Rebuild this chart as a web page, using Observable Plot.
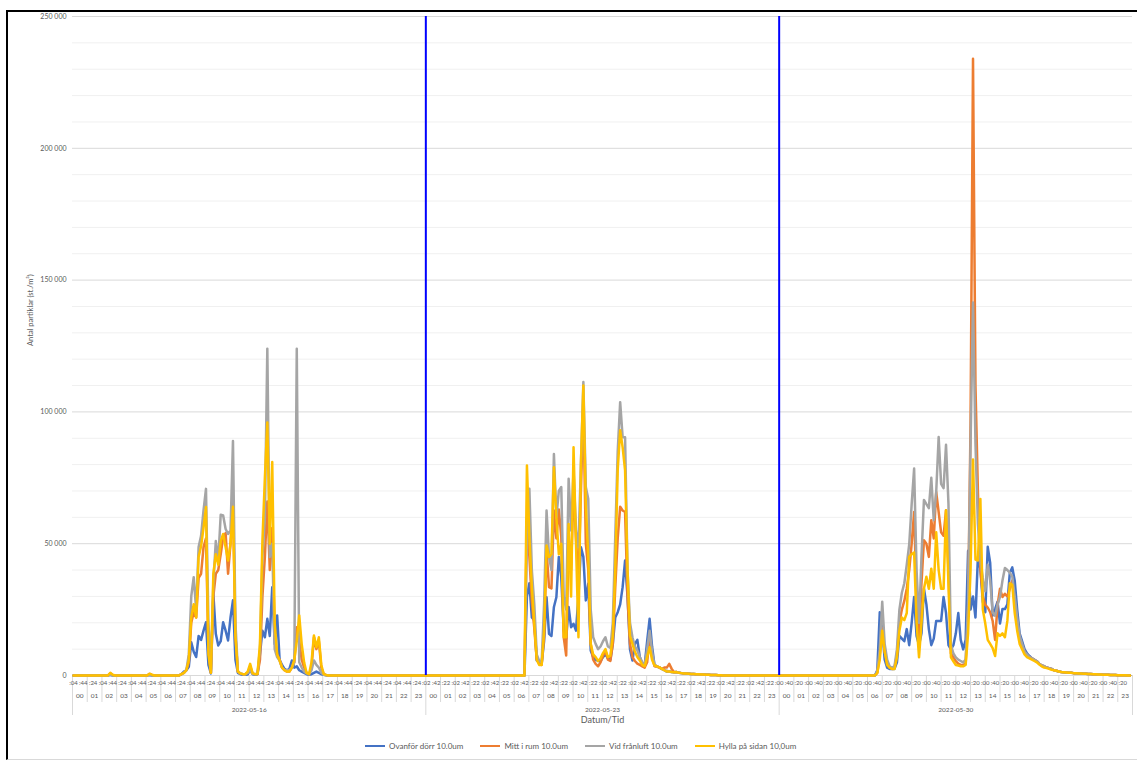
<!DOCTYPE html>
<html>
<head>
<meta charset="utf-8">
<script src="https://cdn.jsdelivr.net/npm/d3@7"></script>
<script src="https://cdn.jsdelivr.net/npm/@observablehq/plot@0.6"></script>
<style>
  body { margin: 0; background: #fff; font-family: Lato, "Open Sans", sans-serif; }
  #wrap { position: relative; width: 1137px; height: 762px; overflow: hidden; }
  #frame { position: absolute; left: 6px; top: 10px; right: -4px; bottom: 2px;
           border-top: 2.5px solid #000; border-left: 2.5px solid #000; border-bottom: 1px solid #d9d9d9; }
  #chart { position: absolute; left: 0; top: 0; }
  #chart svg { overflow: visible; }
  #legend { position: absolute; left: 365px; top: 741px; display: flex; align-items: center;
            font-size: 8px; color: #595959; white-space: nowrap; }
  #legend .item { display: flex; align-items: center; margin-right: 17px; }
  #legend .sw { width: 20px; height: 2.5px; margin-right: 4px; }
</style>
</head>
<body>
<div id="wrap">
  <div id="frame"></div>
  <div id="chart"></div>
  <div id="legend"></div>
</div>
<script>
// Series names and colours
const series = ["Ovanför dörr 10.0um", "Mitt i rum 10.0um", "Vid frånluft 10.0um", "Hylla på sidan 10,0um"];
const colors = ["#4472c4", "#ed7d31", "#a5a5a5", "#ffc000"];

// Measurement days; first reading of each day at hh:MM, then every 10 minutes (144 per day)
const dates = ["2022-05-16", "2022-05-23", "2022-05-30"];
const startMinute = [4, 2, 0];
const stepMinutes = 10;
const hourNames = ["00","01","02","03","04","05","06","07","08","09","10","11",
                   "12","13","14","15","16","17","18","19","20","21","22","23"];

// Axis values
const yTicks = [0, 50000, 100000, 150000, 200000, 250000];
const yMinor = [10000, 20000, 30000, 40000, 60000, 70000, 80000, 90000, 110000, 120000, 130000, 140000,
                160000, 170000, 180000, 190000, 210000, 220000, 230000, 240000];
const dayDividers = [24, 48];

// Ovanför dörr 10.0um (st./m³), one row = two hours
const ovanfor_16 = [
  0,0,0,0,0,0,0,0,0,0,0,0,
  0,0,0,300,0,0,0,0,0,0,0,0,
  0,0,0,0,0,0,0,200,0,0,0,0,
  0,0,0,0,0,0,0,0,500,1500,2000,3300,
  12600,9000,7000,15000,13500,17000,20200,4000,800,31000,15800,11400,
  13000,20200,17000,13300,22000,28500,6000,1000,500,300,300,400,
  2000,500,300,500,8000,17000,14500,21500,15000,33500,12000,22800,
  6000,4000,2500,2000,2500,5700,3000,3500,2000,1500,1000,500,
  300,500,1000,1500,1000,500,300,100,0,0,0,0,
  0,0,0,0,0,0,0,0,0,0,0,0,
  0,0,0,0,0,0,0,0,0,0,0,0,
  0,0,0,0,0,0,0,0,0,0,0,0
];
const ovanfor_23 = [
  0,0,0,0,0,0,0,0,0,0,0,0,
  0,0,0,0,0,0,0,0,0,0,0,0,
  0,0,0,0,0,0,0,0,0,0,0,0,
  0,0,0,0,0,30000,35000,22000,21000,5700,5000,4500,
  13000,29700,15800,15000,26000,29700,45000,37300,17000,14000,26000,18300,
  19600,17000,30000,48700,45000,28500,34800,9500,7000,6000,5500,5500,
  7000,8000,6500,6000,12000,22000,24000,27000,33500,43600,30000,10000,
  5700,12000,13500,7000,4500,4000,13000,21500,11000,3800,3500,3100,
  2500,2000,1500,1500,1300,1200,1300,1000,900,800,800,700,
  600,600,500,500,400,400,300,300,200,200,200,100,
  100,0,0,0,0,0,0,0,0,0,0,0,
  0,0,0,0,0,0,0,0,0,0,0,0
];
const ovanfor_30 = [
  0,0,0,0,0,0,0,0,0,0,0,0,
  0,0,0,0,0,0,0,0,0,0,0,0,
  0,0,0,0,0,0,0,0,0,0,0,0,
  0,0,0,0,2000,24000,18000,6000,3000,2500,2500,2500,
  5000,15000,14000,13000,17600,11500,20000,29800,15000,11500,16000,32900,
  27000,17600,11500,14000,20700,20700,20700,29800,23700,11500,9900,11500,
  16000,23700,13500,9900,13500,47300,25000,30000,22000,45000,40500,28000,
  24000,48800,42700,22700,25200,28000,19700,25200,25200,27000,39000,41000,
  36000,25000,16000,13000,10000,8400,7400,6500,6000,5400,4500,3800,
  3500,3000,2800,2500,2000,1800,1500,1300,1200,1100,1000,1000,
  900,900,800,800,700,700,600,600,500,500,400,400,
  300,300,300,200,200,200,100,100,100,100,0,0
];

// Mitt i rum 10.0um
const mitt_16 = [
  0,0,0,0,0,0,0,0,0,0,0,0,
  0,0,0,800,200,0,0,0,0,0,0,0,
  0,0,0,0,0,0,0,600,200,0,0,0,
  0,0,0,0,0,0,0,0,500,1000,2000,5000,
  20000,24000,22000,37000,38600,48700,52000,10000,1000,30000,38600,40000,
  46000,52500,54000,38600,50000,66000,15000,1500,800,500,500,1000,
  3500,800,500,600,6000,30000,45000,66000,40000,56000,15000,8000,
  6000,3000,2000,1500,1500,3000,5000,18300,13300,6000,3000,1000,
  500,3000,14500,10000,13000,3000,500,200,0,0,0,0,
  0,0,0,0,0,0,0,0,0,0,0,0,
  0,0,0,0,0,0,0,0,0,0,0,0,
  0,0,0,0,0,0,0,0,0,0,0,0
];
const mitt_23 = [
  0,0,0,0,0,0,0,0,0,0,0,0,
  0,0,0,0,0,0,0,0,0,0,0,0,
  0,0,0,0,0,0,0,0,0,0,0,0,
  0,0,0,0,0,60000,45000,28000,18000,6000,4500,4000,
  15000,47400,33500,33000,62600,52000,63000,52500,14500,7600,52500,40000,
  71500,52000,35000,70000,103000,50000,40000,12000,6000,4400,3500,5000,
  7500,9500,6000,5500,12000,33500,52000,64000,62600,62000,30000,12000,
  7000,5500,4500,4000,3500,3000,5000,14500,7000,3500,3300,3000,
  2500,3000,3000,4400,2500,1200,1300,1000,900,800,800,700,
  600,600,500,500,400,400,300,300,200,200,200,100,
  100,0,0,0,0,0,0,0,0,0,0,0,
  0,0,0,0,0,0,0,0,0,0,0,0
];
const mitt_30 = [
  0,0,0,0,0,0,0,0,0,0,0,0,
  0,0,0,0,0,0,0,0,0,0,0,0,
  0,0,0,0,0,0,0,0,0,0,0,0,
  0,0,0,0,1000,8000,18000,9000,5000,3000,2500,3000,
  8000,20000,25000,28300,32900,40000,50000,62000,30000,12000,35000,51300,
  50000,45000,58900,52000,69600,62000,54300,53000,62700,40000,8400,6900,
  5400,4500,4000,4000,4500,25000,95600,234000,110000,69600,40500,30000,
  26800,25800,24000,20700,13500,26800,32900,29800,31000,30000,32900,36000,
  28000,20000,14000,11500,9000,7500,7000,6500,6000,5400,4500,3800,
  3500,3000,2800,2500,2000,1800,1500,1300,1200,1100,1000,1000,
  900,900,800,800,700,700,600,600,500,500,400,400,
  300,300,300,200,200,200,100,100,100,100,0,0
];

// Vid frånluft 10.0um
const vid_16 = [
  0,0,0,0,0,0,0,0,0,0,0,0,
  0,0,0,300,0,0,0,0,0,0,0,0,
  0,0,0,0,0,0,0,300,0,0,0,0,
  0,0,0,0,0,0,0,0,500,1000,2000,8000,
  30000,37300,25000,48700,53000,62600,70800,20000,2000,35000,51000,43600,
  61000,60700,55600,53700,55000,89000,20000,1500,800,500,500,1000,
  2000,600,500,800,10000,45000,60000,124000,45000,50000,10000,7000,
  5700,3000,2000,2000,2000,3000,5000,124000,5000,3000,1500,800,
  500,2000,5700,4000,3000,1000,300,100,0,0,0,0,
  0,0,0,0,0,0,0,0,0,0,0,0,
  0,0,0,0,0,0,0,0,0,0,0,0,
  0,0,0,0,0,0,0,0,0,0,0,0
];
const vid_23 = [
  0,0,0,0,0,0,0,0,0,0,0,0,
  0,0,0,0,0,0,0,0,0,0,0,0,
  0,0,0,0,0,0,0,0,0,0,0,0,
  0,0,0,0,0,52000,70800,40000,27000,8000,5500,5000,
  27000,62600,45000,40000,84000,60000,70000,71500,30000,25000,74600,55000,
  77800,55000,48700,80000,111300,71500,67000,25000,14500,12000,10000,11000,
  13000,14500,11000,10500,20000,52500,85000,103700,90400,90400,40000,20000,
  14500,11000,9500,7000,5000,4000,10000,17000,9000,4000,3500,3100,
  2500,2000,1800,1500,1300,1200,1300,1000,900,800,800,700,
  600,600,500,500,400,400,300,300,200,200,200,100,
  100,0,0,0,0,0,0,0,0,0,0,0,
  0,0,0,0,0,0,0,0,0,0,0,0
];
const vid_30 = [
  0,0,0,0,0,0,0,0,0,0,0,0,
  0,0,0,0,0,0,0,0,0,0,0,0,
  0,0,0,0,0,0,0,0,0,0,0,0,
  0,0,0,0,1500,10000,28000,12000,6000,3500,3000,3500,
  10000,25000,31400,35000,42000,49700,65000,78500,40000,20000,45000,66600,
  65000,63500,75000,58900,69600,90500,72700,71100,87500,65000,11500,8400,
  6900,6000,5500,5000,6000,26800,88000,141500,88000,57400,43600,37000,
  32000,42000,36000,24000,22700,26800,29800,36000,40800,40000,39000,37500,
  30000,22000,15000,12000,9000,8000,7000,6500,6000,5400,4500,3800,
  3500,3000,2800,2500,2000,1800,1500,1300,1200,1100,1000,1000,
  900,900,800,800,700,700,600,600,500,500,400,400,
  300,300,300,200,200,200,100,100,100,100,0,0
];

// Hylla på sidan 10,0um
const hylla_16 = [
  0,0,0,0,0,0,0,0,0,0,0,0,
  0,0,0,1000,300,0,0,0,0,0,0,0,
  0,0,0,0,0,0,0,700,300,0,0,0,
  0,0,0,0,0,0,0,0,500,1000,2000,6000,
  22000,27000,22000,45000,49000,56000,63900,8000,1000,38600,46000,42000,
  51000,53700,48700,43600,50000,64000,15000,1500,800,500,500,1500,
  4400,800,500,600,12000,51000,75000,96000,50000,81000,20000,8000,
  5700,3000,2000,1500,1500,3000,6000,13000,22800,12000,5000,1000,
  500,5000,15200,10700,14500,4000,500,200,0,0,0,0,
  0,0,0,0,0,0,0,0,0,0,0,0,
  0,0,0,0,0,0,0,0,0,0,0,0,
  0,0,0,0,0,0,0,0,0,0,0,0
];
const hylla_23 = [
  0,0,0,0,0,0,0,0,0,0,0,0,
  0,0,0,0,0,0,0,0,0,0,0,0,
  0,0,0,0,0,0,0,0,0,0,0,0,
  0,0,0,0,0,79700,52500,33500,19600,6000,4000,4000,
  17000,49300,45000,46000,79000,60000,46000,50000,14500,14500,57500,30000,
  86600,50000,14500,80000,110000,65000,45000,12000,8000,7000,5500,6500,
  8500,10000,7000,7500,15000,40000,78000,93000,86600,77800,40000,15000,
  12000,9000,7000,5700,4000,3500,7000,10700,6000,3800,3500,3100,
  2500,2000,1500,1500,1300,1200,1300,1000,900,800,800,700,
  600,600,500,500,400,400,300,300,200,200,200,100,
  100,0,0,0,0,0,0,0,0,0,0,0,
  0,0,0,0,0,0,0,0,0,0,0,0
];
const hylla_30 = [
  0,0,0,0,0,0,0,0,0,0,0,0,
  0,0,0,0,0,0,0,0,0,0,0,0,
  0,0,0,0,0,0,0,0,0,0,0,0,
  0,0,0,0,1000,6000,17000,9000,4000,3000,2500,2500,
  7000,17000,22000,21000,23700,45100,46000,46700,20000,6900,20000,32900,
  37500,32900,40500,32900,54300,40000,32900,32900,62700,34400,6900,5400,
  4000,3800,3500,3500,4000,16000,40000,81900,44000,43600,67000,25000,
  19700,13500,12000,10400,7400,16000,15000,16000,14500,20700,35000,34400,
  23700,17000,12000,10000,8000,7000,6500,6000,5500,5000,4200,3500,
  3000,2800,2500,2200,2000,1800,1500,1300,1200,1100,1000,1000,
  900,900,800,800,700,700,600,600,500,500,400,400,
  300,300,300,200,200,200,100,100,100,100,0,0
];

const seriesDays = [
  [ovanfor_16, ovanfor_23, ovanfor_30],
  [mitt_16, mitt_23, mitt_30],
  [vid_16, vid_23, vid_30],
  [hylla_16, hylla_23, hylla_30]
];

// Time in hours from the start of the first day (each day occupies 24 units on the axis)
const timeOf = (d, j) => 24 * d + (startMinute[d] + j * stepMinutes) / 60;

const rows = [];
seriesDays.forEach((days, si) => days.forEach((arr, d) => arr.forEach((v, j) => {
  rows.push({series: series[si], t: timeOf(d, j), v});
})));

// Category axis: minute labels on every fourth reading, hour labels, date labels
const minuteLabels = [];
const hourLabels = [];
const dateLabels = [];
const hourBounds = [];
dates.forEach((date, d) => {
  for (let j = 0; j < 144; j += 4) {
    const m = (startMinute[d] + j * stepMinutes) % 60;
    minuteLabels.push({t: timeOf(d, j), label: ":" + String(m).padStart(2, "0")});
  }
  hourNames.forEach((h, hi) => {
    hourLabels.push({t: 24 * d + hi + 0.5, label: h});
    if (hi > 0) hourBounds.push(24 * d + hi);
  });
  dateLabels.push({t: 24 * d + 12, label: date});
});
const dayBounds = [0, 24, 48, 72];

const gray = "#595959";
const fmt = v => d3.format(",")(v).replace(/,/g, " ");

const chart = Plot.plot({
  width: 1137,
  height: 735,
  marginLeft: 72,
  marginRight: 5,
  marginTop: 16,
  marginBottom: 60,
  style: {fontFamily: "Lato, 'Open Sans', sans-serif", background: "transparent", color: gray},
  x: {domain: [0, 72]},
  y: {domain: [0, 250000]},
  marks: [
    Plot.ruleY(yMinor, {stroke: "#f0f0f0", strokeWidth: 1}),
    Plot.ruleY(yTicks, {stroke: "#d9d9d9", strokeWidth: 1}),
    Plot.axisY(yTicks, {tickSize: 0, tickPadding: 6, tickFormat: fmt, fontSize: 7, color: gray, label: null}),
    Plot.text(["Antal partiklar (st./m³)"], {frameAnchor: "left", dx: -42, rotate: -90, text: d => d, fontSize: 7.5, fill: gray}),
    // category axis separators
    Plot.axisX(hourBounds, {tickSize: 27, tickFormat: () => "", stroke: "#d9d9d9", label: null}),
    Plot.axisX(dayBounds, {tickSize: 40, tickFormat: () => "", stroke: "#d9d9d9", label: null}),
    Plot.text(minuteLabels, {x: "t", text: "label", frameAnchor: "bottom", dy: 9, fontSize: 6, fill: gray}),
    Plot.text(hourLabels, {x: "t", text: "label", frameAnchor: "bottom", dy: 22, fontSize: 6.5, fill: gray}),
    Plot.text(dateLabels, {x: "t", text: "label", frameAnchor: "bottom", dy: 36, fontSize: 6.5, fill: gray}),
    Plot.text(["Datum/Tid"], {frameAnchor: "bottom", dy: 47, text: d => d, fontSize: 9, fill: gray}),
    // one line per sensor, drawn in series order
    ...series.map((s, i) => Plot.line(rows.filter(r => r.series === s), {
      x: "t", y: "v", stroke: colors[i], strokeWidth: 2.5, strokeLinejoin: "round"
    })),
    // week dividers
    Plot.ruleX(dayDividers, {stroke: "#0000ff", strokeWidth: 2})
  ]
});
document.getElementById("chart").appendChild(chart);

// Legend
const legend = document.getElementById("legend");
series.forEach((s, i) => {
  const item = document.createElement("div");
  item.className = "item";
  const sw = document.createElement("span");
  sw.className = "sw";
  sw.style.background = colors[i];
  const label = document.createElement("span");
  label.textContent = s;
  item.append(sw, label);
  legend.appendChild(item);
});
</script>
</body>
</html>
